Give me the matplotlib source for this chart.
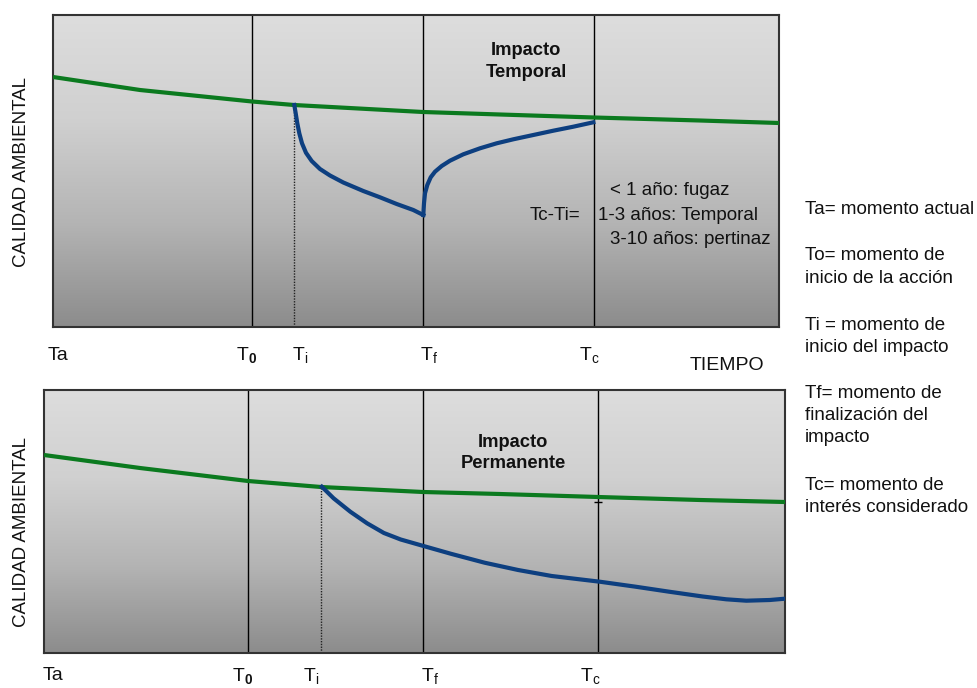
import numpy as np
import matplotlib
matplotlib.use("Agg")
import matplotlib.pyplot as plt
from matplotlib.colors import LinearSegmentedColormap

plt.rcParams['font.family'] = ['Liberation Sans', 'DejaVu Sans']
plt.rcParams['mathtext.fontset'] = 'custom'
plt.rcParams['mathtext.rm'] = 'Liberation Sans'
plt.rcParams['mathtext.it'] = 'Liberation Sans:italic'
plt.rcParams['mathtext.bf'] = 'Liberation Sans:bold'

W, H = 978, 688

# ---------------- data (time units / quality units) ----------------
# Top panel: Impacto Temporal
top_marks = [199, 241, 370, 541]            # T0, Ti, Tf, Tc
top_green_t = [0, 87, 199, 241, 287, 370, 447, 541, 647, 726]
top_green_q = [250, 237, 225.5, 222, 219.5, 215, 212.5, 209.5, 206.5, 204]
top_drop_t = [241.3, 242.7, 244.3, 246.3, 249, 253, 258.7, 267, 277, 290.3,
              310.3, 327, 343.7, 360.3, 370.3]
top_drop_q = [222, 213.7, 203.7, 193.7, 183.7, 174.2, 166, 158, 151.5, 144.5,
              136, 129.7, 123, 117, 112]
top_rec_t = [370.3, 371, 372, 374.3, 377.7, 382, 388.7, 397, 410.3, 427,
             443.7, 460.3, 480.3, 500.3, 520.3, 540.3]
top_rec_q = [112, 123.7, 133.7, 142, 149.7, 155.3, 161, 166.3, 172.7, 178.7,
             183.7, 187.7, 192, 196.3, 200.3, 204.7]

# Bottom panel: Impacto Permanente
bot_marks = [204, 277, 379, 554]
bot_green_t = [0, 96, 204, 277, 379, 456, 554, 656, 741]
bot_green_q = [198, 185, 172, 166, 161, 159, 156, 153, 151]
bot_blue_t = [277.8, 289.6, 306.3, 323.1, 339.9, 356.7, 379.5, 407, 440.6,
              474.1, 507.7, 555.7, 591.6, 625.1, 658.7, 682.2, 702.3, 725.8, 741]
bot_blue_q = [166.3, 154.7, 141.3, 129.7, 120, 113.5, 107, 99.2, 90.3,
              83, 77, 71.3, 66.3, 61.3, 56.5, 53.7, 52.3, 53, 54.3]

tick_labels = ['Ta', r'T$_{\mathbf{0}}$', r'T$_{\mathrm{i}}$', r'T$_{\mathrm{f}}$', r'T$_{\mathrm{c}}$']
ranges = ['< 1 año: fugaz', '1-3 años: Temporal', '3-10 años: pertinaz']
legend_lines = [['Ta= momento actual'],
                ['To= momento de', 'inicio de la acción'],
                ['Ti = momento de', 'inicio del impacto'],
                ['Tf= momento de', 'finalización del', 'impacto'],
                ['Tc= momento de', 'interés considerado']]

GREEN = '#0b7a1f'
BLUE = '#0d3f80'
TXT = '#111111'
cmap = LinearSegmentedColormap.from_list('g', ['#dddddd', '#d0d0d0', '#b4b4b4', '#8c8c8c'])

fig = plt.figure(figsize=(W / 100, H / 100), dpi=100)
fig.patch.set_facecolor('white')


def px_axes(l, t, r, b):
    return fig.add_axes([l / W, 1 - b / H, (r - l) / W, (b - t) / H])


def ftext(x, y, s, **kw):
    kw.setdefault('color', TXT)
    fig.text(x / W, 1 - y / H, s, **kw)


def panel(ax, width, height, marks, green_t, green_q, dot_q):
    ax.set_xlim(0, width)
    ax.set_ylim(0, height)
    grad = np.linspace(0, 1, 256).reshape(-1, 1)
    ax.imshow(grad, cmap=cmap, aspect='auto', extent=[0, width, 0, height],
              origin='upper', zorder=0, vmin=0, vmax=1)
    for m in [marks[0], marks[2], marks[3]]:
        ax.axvline(m, color='black', lw=1.0, zorder=2)
    ax.plot([marks[1], marks[1]], [0, dot_q], color='#222222', lw=1.0,
            ls=(0, (1, 1)), zorder=2)
    ax.plot(green_t, green_q, color=GREEN, lw=3, zorder=3,
            solid_capstyle='butt')
    ax.set_xticks([])
    ax.set_yticks([])
    for s in ax.spines.values():
        s.set_color('#333333')
        s.set_linewidth(1.5)


# Top panel
ax1 = px_axes(53, 15, 779, 327)
panel(ax1, 726, 312, top_marks, top_green_t, top_green_q, top_green_q[3])
ax1.plot(top_drop_t, top_drop_q, color=BLUE, lw=3, zorder=4, solid_joinstyle='round')
ax1.plot(top_rec_t, top_rec_q, color=BLUE, lw=3, zorder=4, solid_joinstyle='round')
ax1.text(473, 265.5, 'Impacto\nTemporal', ha='center', va='center', color=TXT,
         fontsize=13.2, fontweight='bold', linespacing=1.38)

# Bottom panel
ax2 = px_axes(44, 390, 785, 653)
panel(ax2, 741, 263, bot_marks, bot_green_t, bot_green_q, bot_green_q[3])
ax2.plot(bot_blue_t, bot_blue_q, color=BLUE, lw=3, zorder=4, solid_joinstyle='round')
ax2.plot([bot_marks[3]], [bot_green_q[6] - 5], marker='_', color='black',
         ms=6, mew=1, zorder=5)
ax2.text(469, 200, 'Impacto\nPermanente', ha='center', va='center', color=TXT,
         fontsize=13.2, fontweight='bold', linespacing=1.38)

# Ranges annotation (top)
FS = 13.5
ftext(580, 216, 'Tc-Ti=', ha='right', va='center', fontsize=FS)
ftext(610, 191, ranges[0], ha='left', va='center', fontsize=FS)
ftext(598, 216, ranges[1], ha='left', va='center', fontsize=FS)
ftext(610, 240, ranges[2], ha='left', va='center', fontsize=FS)

# Y labels
ftext(22, 172, 'CALIDAD AMBIENTAL', rotation=90, ha='center', va='center', fontsize=13.5)
ftext(22, 532, 'CALIDAD AMBIENTAL', rotation=90, ha='center', va='center', fontsize=13.5)

# Time labels
top_lab_x = [48, 236, 292, 420, 579]
bot_lab_x = [43, 232, 303, 421, 580]
for s, x in zip(tick_labels, top_lab_x):
    ftext(x, 355, s, ha='left', va='center', fontsize=14)
for s, x in zip(tick_labels, bot_lab_x):
    ftext(x, 676, s, ha='left', va='center', fontsize=14)
ftext(690, 366, 'TIEMPO', ha='left', va='center', fontsize=14)

# Legend text
leg_y = [[210], [255, 278], [325, 347], [393, 415, 438], [485, 508]]
for lines, ys in zip(legend_lines, leg_y):
    for s, y in zip(lines, ys):
        ftext(805, y, s, ha='left', va='center', fontsize=FS)

fig.savefig('out.png', dpi=100, facecolor='white')
